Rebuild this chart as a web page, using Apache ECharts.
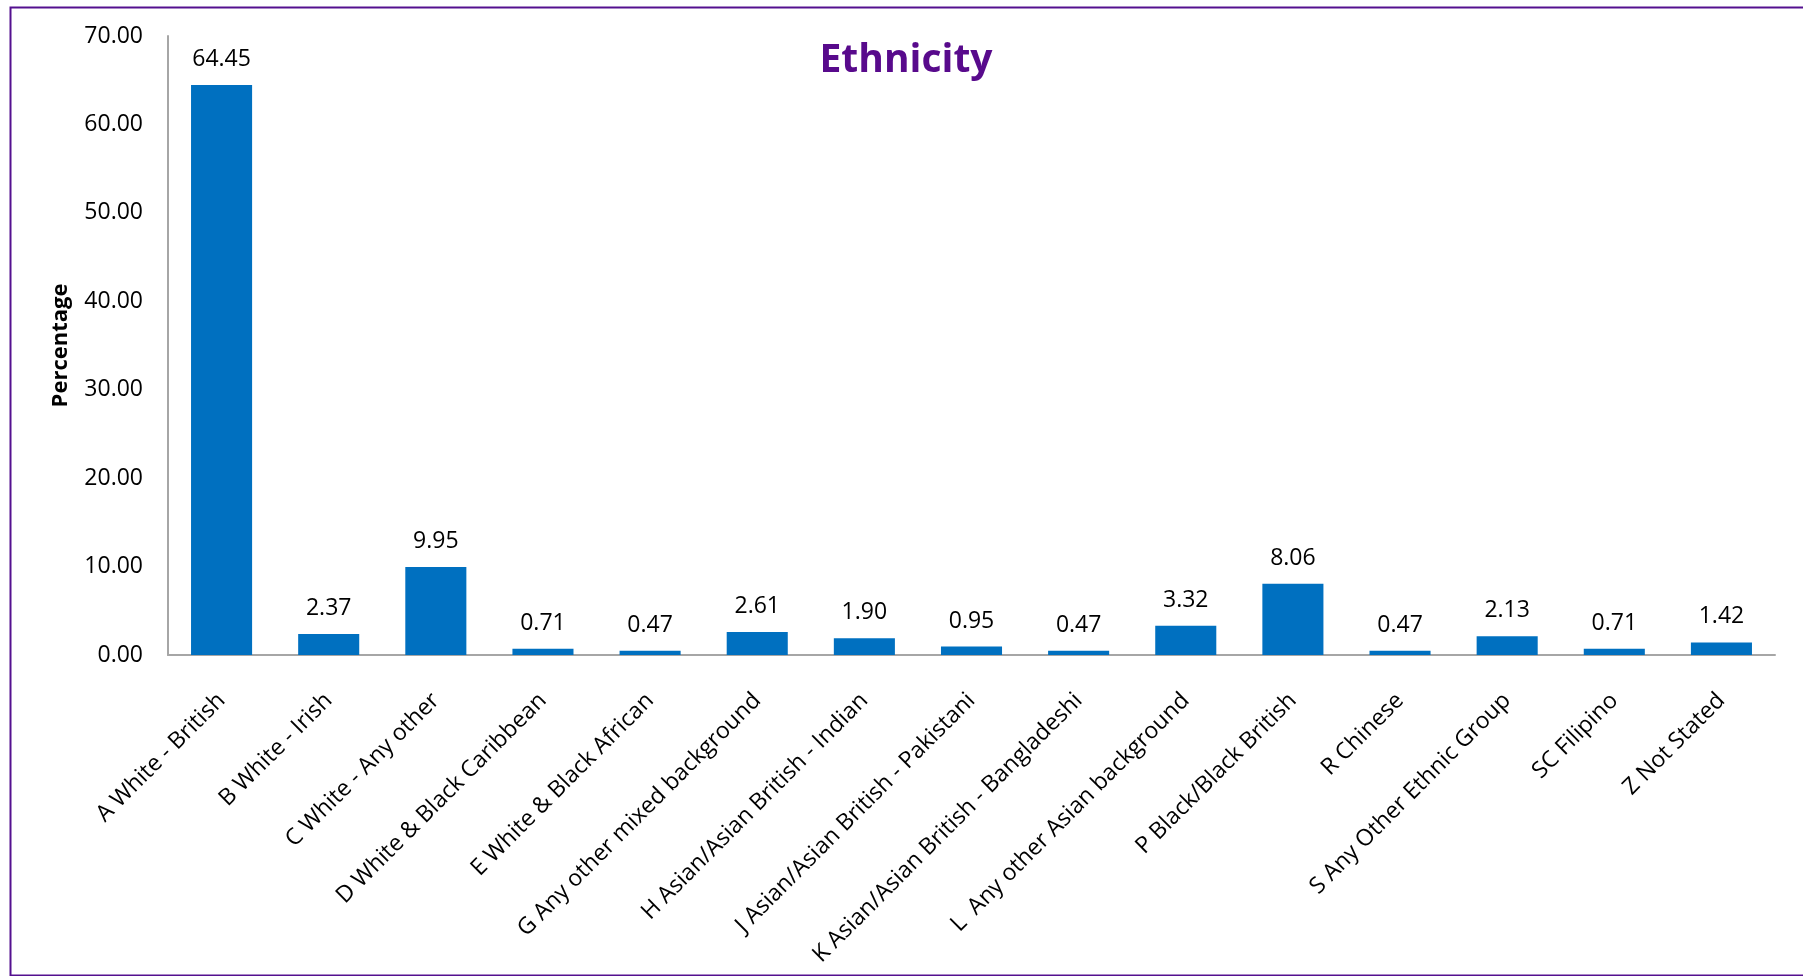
<!DOCTYPE html>
<html>
<head>
<meta charset="utf-8">
<script src="https://cdn.jsdelivr.net/npm/echarts@6/dist/echarts.min.js"></script>
<style>
html,body{margin:0;padding:0;background:#fff;}
#chart{width:1803px;height:976px;}
</style>
</head>
<body>
<div id="chart"></div>
<script>
const categories = [
  "A White - British",
  "B White - Irish",
  "C White - Any other",
  "D White & Black Caribbean",
  "E White & Black African",
  "G Any other mixed background",
  "H Asian/Asian British - Indian",
  "J Asian/Asian British - Pakistani",
  "K Asian/Asian British - Bangladeshi",
  "L  Any other Asian background",
  "P Black/Black British",
  "R Chinese",
  "S Any Other Ethnic Group",
  "SC Filipino",
  "Z Not Stated"
];
const percentages = [64.45, 2.37, 9.95, 0.71, 0.47, 2.61, 1.90, 0.95, 0.47, 3.32, 8.06, 0.47, 2.13, 0.71, 1.42];
const yTicks = { min: 0, max: 70, interval: 10 };
const titleText = "Ethnicity";
const yName = "Percentage";

const FONT = "Open Sans";
const chart = echarts.init(document.getElementById('chart'), null, {renderer: 'canvas'});
chart.setOption({
  backgroundColor: '#ffffff',
  animation: false,
  graphic: [{
    type: 'rect',
    left: 8, top: 5,
    shape: { width: 1820, height: 968 },
    style: { fill: 'none', stroke: '#54108F', lineWidth: 2 },
    silent: true
  }],
  title: {
    text: titleText,
    left: 901, top: 36,
    textAlign: 'center',
    textStyle: { fontFamily: FONT, fontWeight: 'bold', fontSize: 39, color: '#580A8C' }
  },
  grid: { left: 168, right: 28, top: 36, bottom: 321, containLabel: false },
  xAxis: {
    type: 'category',
    data: categories,
    axisLine: { lineStyle: { color: '#A6A6A6', width: 2 } },
    axisTick: { show: false },
    axisLabel: {
      interval: 0, rotate: 45, margin: 42,
      fontFamily: FONT, fontSize: 23, color: '#000'
    }
  },
  yAxis: {
    type: 'value',
    min: yTicks.min, max: yTicks.max, interval: yTicks.interval,
    name: yName,
    nameLocation: 'middle',
    nameGap: 96,
    nameRotate: 90,
    nameTextStyle: { fontFamily: FONT, fontWeight: 'bold', fontSize: 22, color: '#000' },
    axisLine: { show: true, lineStyle: { color: '#A6A6A6', width: 2 } },
    axisTick: { show: false },
    splitLine: { show: false },
    axisLabel: {
      margin: 25,
      fontFamily: FONT, fontSize: 23, color: '#000',
      formatter: v => v.toFixed(2)
    }
  },
  series: [{
    type: 'bar',
    data: percentages,
    barWidth: '57%',
    itemStyle: { color: '#0070C0' },
    label: {
      show: true, position: 'top', distance: 14,
      fontFamily: FONT, fontSize: 23, color: '#000',
      formatter: p => p.value.toFixed(2)
    }
  }]
});
</script>
</body>
</html>
